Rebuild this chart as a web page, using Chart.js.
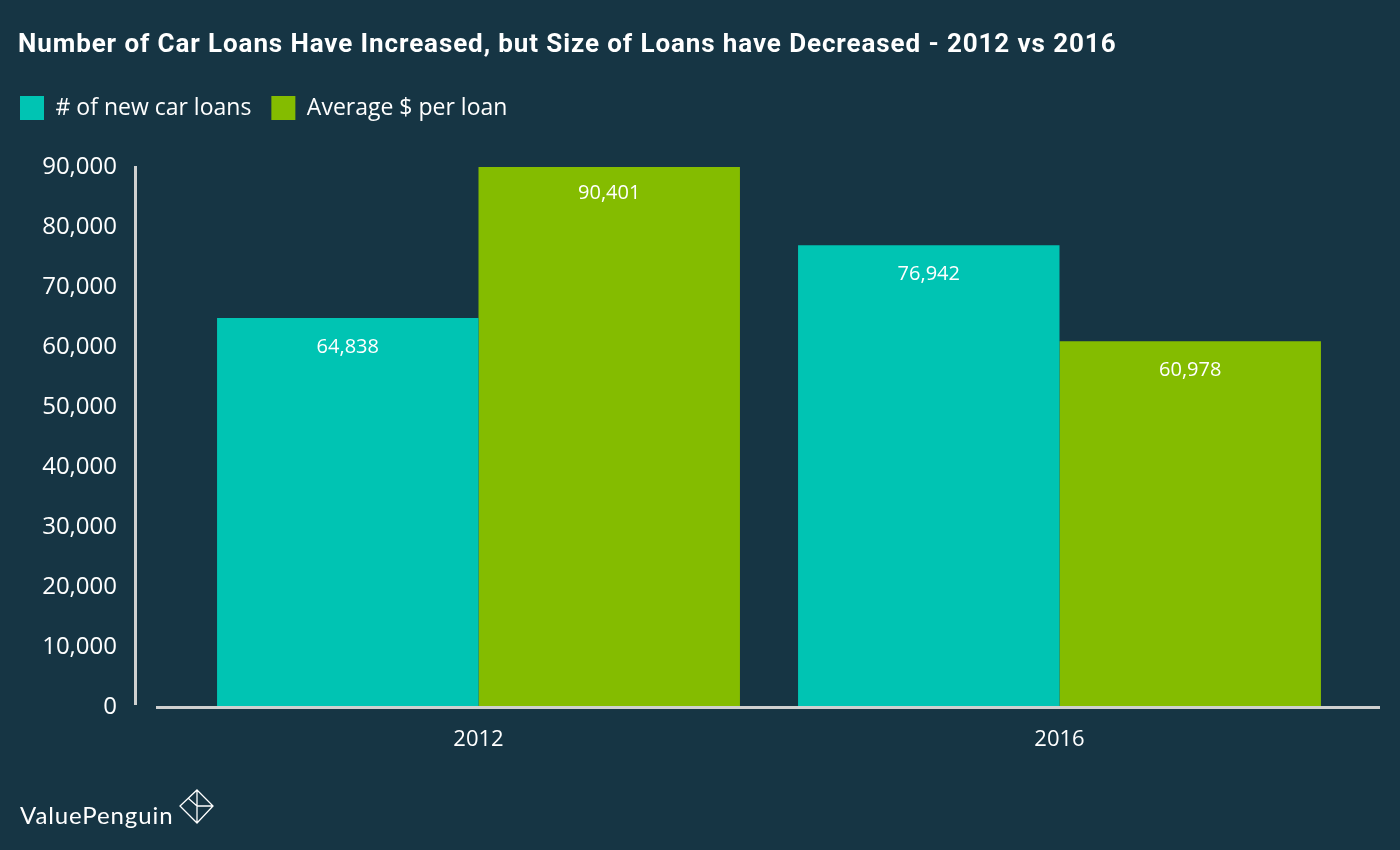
<!DOCTYPE html>
<html>
<head>
<meta charset="utf-8">
<script src="https://cdn.jsdelivr.net/npm/chart.js@4"></script>
<style>
  html, body { margin: 0; padding: 0; background: #163544; }
  #wrap { width: 1400px; height: 850px; position: relative; }
  canvas { display: block; }
</style>
</head>
<body>
<div id="wrap"><canvas id="c" width="1400" height="850"></canvas></div>
<script>
const chartTitle = 'Number of Car Loans Have Increased, but Size of Loans have Decreased - 2012 vs 2016';
const categories = ['2012', '2016'];
const seriesLabels = ['# of new car loans', 'Average $ per loan'];
const newCarLoans = [64838, 76942];
const avgPerLoan = [90401, 60978];
const yMin = 0, yMax = 90000, yStep = 10000;
const brand = 'ValuePenguin';

const BG = '#163544';
const TEAL = '#00c4b3';
const GREEN = '#84bc00';
const AXIS = '#cfd0d0';
const LEGEND_EXTRA = 37;

const fmt = v => Number(v).toLocaleString('en-US');

const decor = {
  id: 'decor',
  beforeLayout(chart) {
    const lg = chart.legend;
    if (lg && !lg.__patched) {
      const f = lg.fit;
      lg.fit = function () { f.call(this); this.height += LEGEND_EXTRA; };
      lg.__patched = true;
    }
  },
  beforeDraw(chart) {
    const ctx = chart.ctx;
    ctx.save();
    ctx.fillStyle = BG;
    ctx.fillRect(0, 0, chart.width, chart.height);
    ctx.restore();
  },
  afterDatasetsDraw(chart) {
    const ctx = chart.ctx;
    const a = chart.chartArea;
    ctx.save();
    ctx.strokeStyle = AXIS;
    ctx.lineWidth = 3;
    ctx.beginPath();
    ctx.moveTo(a.left - 52.5, a.top - 1);
    ctx.lineTo(a.left - 52.5, a.bottom - 2);
    ctx.stroke();
    ctx.beginPath();
    ctx.moveTo(a.left - 32, a.bottom + 0.5);
    ctx.lineTo(a.right + 30, a.bottom + 0.5);
    ctx.stroke();
    ctx.fillStyle = '#ffffff';
    ctx.font = '20px "Open Sans"';
    ctx.textAlign = 'center';
    ctx.textBaseline = 'middle';
    chart.data.datasets.forEach((ds, i) => {
      const meta = chart.getDatasetMeta(i);
      meta.data.forEach((bar, j) => {
        ctx.fillText(fmt(ds.data[j]), bar.x, bar.y + 29);
      });
    });
    ctx.restore();
  },
  afterDraw(chart) {
    const ctx = chart.ctx;
    ctx.save();
    ctx.fillStyle = '#ffffff';
    ctx.textAlign = 'left';
    ctx.textBaseline = 'middle';
    ctx.font = 'bold 26px Roboto';
    ctx.letterSpacing = '0.9px';
    ctx.fillText(chartTitle, 18, 45);
    ctx.font = '24px Lato';
    ctx.letterSpacing = '0.9px';
    ctx.textBaseline = 'alphabetic';
    ctx.fillText(brand, 20, 824);
    ctx.letterSpacing = '0px';
    ctx.strokeStyle = '#ffffff';
    ctx.lineWidth = 1.3;
    ctx.beginPath();
    ctx.moveTo(197, 790); ctx.lineTo(213, 806); ctx.lineTo(197, 823); ctx.lineTo(180, 806); ctx.closePath();
    ctx.moveTo(197, 790); ctx.lineTo(197, 823);
    ctx.moveTo(197, 806); ctx.lineTo(213, 806);
    ctx.moveTo(188, 798); ctx.lineTo(197, 806);
    ctx.stroke();
    ctx.restore();
  }
};

new Chart(document.getElementById('c'), {
  type: 'bar',
  data: {
    labels: categories,
    datasets: [
      { label: seriesLabels[0], data: newCarLoans, backgroundColor: TEAL, borderWidth: 0 },
      { label: seriesLabels[1], data: avgPerLoan, backgroundColor: GREEN, borderWidth: 0 }
    ]
  },
  options: {
    responsive: false,
    animation: false,
    layout: { padding: { top: 76, left: 0, right: 50, bottom: 0 } },
    plugins: {
      title: { display: false },
      tooltip: { enabled: false },
      legend: {
        display: true,
        position: 'top',
        align: 'start',
        labels: {
          boxWidth: 24,
          boxHeight: 24,
          padding: 20,
          color: '#ffffff',
          font: { family: 'Open Sans', size: 23 }
        }
      }
    },
    datasets: { bar: { categoryPercentage: 0.9, barPercentage: 1.0 } },
    scales: {
      x: {
        grid: { display: false, drawTicks: false },
        border: { display: false },
        ticks: { color: '#ffffff', font: { family: 'Open Sans', size: 22 }, padding: 20 },
        afterFit(scale) { scale.height = 143; }
      },
      y: {
        min: yMin,
        max: yMax,
        grid: { display: false, drawTicks: false },
        border: { display: false },
        ticks: {
          stepSize: yStep,
          color: '#ffffff',
          font: { family: 'Open Sans', size: 24 },
          padding: 71,
          callback: v => fmt(v)
        },
        afterFit(scale) { scale.width = 188; }
      }
    }
  },
  plugins: [decor]
});
</script>
</body>
</html>
